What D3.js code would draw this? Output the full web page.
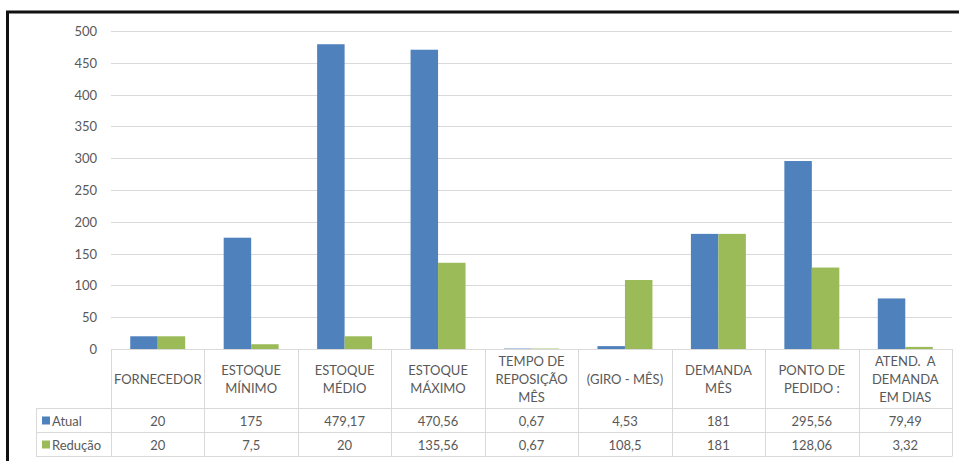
<!DOCTYPE html>
<html>
<head>
<meta charset="utf-8">
<script src="https://cdn.jsdelivr.net/npm/d3@7"></script>
<style>
  body { margin: 0; background: #fff; }
  text { font-family: Lato, "Open Sans", sans-serif; fill: #595959; white-space: pre; }
</style>
</head>
<body>
<div id="chart"></div>
<script>
// categories (multi-line header labels)
var categories = [
    ["FORNECEDOR"],
    ["ESTOQUE", "MÍNIMO"],
    ["ESTOQUE", "MÉDIO"],
    ["ESTOQUE", "MÁXIMO"],
    ["TEMPO DE", "REPOSIÇÃO", "MÊS"],
    ["(GIRO - MÊS)"],
    ["DEMANDA", "MÊS"],
    ["PONTO DE", "PEDIDO :"],
    ["ATEND.  A", "DEMANDA", "EM DIAS"]
];
var seriesNames = ["Atual", "Redução"];
var atual = [20, 175, 479.17, 470.56, 0.67, 4.53, 181, 295.56, 79.49];
var reducao = [20, 7.5, 20, 135.56, 0.67, 108.5, 181, 128.06, 3.32];
var yTicks = [0, 50, 100, 150, 200, 250, 300, 350, 400, 450, 500];
var colors = ["#4F81BD", "#9BBB59"];

var width = 959, height = 461;
var plotLeft = 111, plotRight = 952, plotTop = 31, plotBottom = 349;
var headerBottom = 408.5, row1Bottom = 432.5, row2Bottom = 456.5;
var legendLeft = 36;

var svg = d3.select("#chart").append("svg")
    .attr("width", width)
    .attr("height", height);

var x = d3.scaleBand()
    .domain(d3.range(categories.length))
    .range([plotLeft, plotRight]);

var xInner = d3.scaleBand()
    .domain([0, 1])
    .range([0, x.bandwidth()])
    .paddingOuter(0.7);

var y = d3.scaleLinear().domain([0, 500]).range([plotBottom, plotTop]);

// gridlines
svg.selectAll(".grid")
    .data(yTicks.filter(d => d > 0))
    .enter().append("line")
    .attr("x1", plotLeft).attr("x2", plotRight)
    .attr("y1", d => Math.round(y(d)) + 0.5)
    .attr("y2", d => Math.round(y(d)) + 0.5)
    .attr("stroke", "#D9D9D9");

// y labels
svg.selectAll(".ylab")
    .data(yTicks)
    .enter().append("text")
    .attr("x", 97)
    .attr("y", d => y(d) + 5)
    .attr("text-anchor", "end")
    .style("font-size", "13px")
    .text(d => d);

// bars
var series = [atual, reducao];
series.forEach(function(vals, s) {
    svg.selectAll(".bar" + s)
        .data(vals)
        .enter().append("rect")
        .attr("x", (d, i) => x(i) + xInner(s))
        .attr("width", xInner.bandwidth())
        .attr("y", d => y(d))
        .attr("height", d => y(0) - y(d))
        .attr("fill", colors[s]);
});

// data table lines
var lineColor = "#D9D9D9";
function hline(x1, x2, yy) {
    svg.append("line").attr("x1", x1).attr("x2", x2).attr("y1", yy).attr("y2", yy).attr("stroke", lineColor);
}
function vline(xx, y1, y2) {
    svg.append("line").attr("x1", xx).attr("x2", xx).attr("y1", y1).attr("y2", y2).attr("stroke", lineColor);
}
hline(plotLeft, plotRight, plotBottom + 0.5);
hline(legendLeft, plotRight, headerBottom);
hline(legendLeft, plotRight, row1Bottom);
hline(legendLeft, plotRight, row2Bottom);
vline(legendLeft + 0.5, headerBottom, row2Bottom);
d3.range(categories.length + 1).forEach(function(i) {
    var xx = (i < categories.length ? x(i) : plotRight);
    vline(Math.round(xx) + 0.5, plotBottom, row2Bottom);
});

// header labels
categories.forEach(function(lines, i) {
    var cx = x(i) + x.bandwidth() / 2;
    var midY = (plotBottom + headerBottom) / 2;
    var lh = 18;
    var t = svg.append("text")
        .attr("text-anchor", "middle")
        .style("font-size", "13px");
    lines.forEach(function(l, k) {
        t.append("tspan")
            .attr("x", cx)
            .attr("y", midY + 5 + (k - (lines.length - 1) / 2) * lh)
            .text(l);
    });
});

// value rows
var rowMid = [(headerBottom + row1Bottom) / 2, (row1Bottom + row2Bottom) / 2];
series.forEach(function(vals, s) {
    svg.selectAll(".val" + s)
        .data(vals)
        .enter().append("text")
        .attr("x", (d, i) => x(i) + x.bandwidth() / 2)
        .attr("y", rowMid[s] + 5)
        .attr("text-anchor", "middle")
        .style("font-size", "13px")
        .text(d => String(d).replace(".", ","));

    // legend key + name
    svg.append("rect")
        .attr("x", legendLeft + 6)
        .attr("y", rowMid[s] - 4)
        .attr("width", 8).attr("height", 8)
        .attr("fill", colors[s]);
    svg.append("text")
        .attr("x", legendLeft + 16)
        .attr("y", rowMid[s] + 5)
        .style("font-size", "13px")
        .text(seriesNames[s]);
});

// outer frame (left and top edges visible)
svg.append("path")
    .attr("d", "M7.5," + height + "V12H" + width)
    .attr("fill", "none")
    .attr("stroke", "#111")
    .attr("stroke-width", 3);
</script>
</body>
</html>
